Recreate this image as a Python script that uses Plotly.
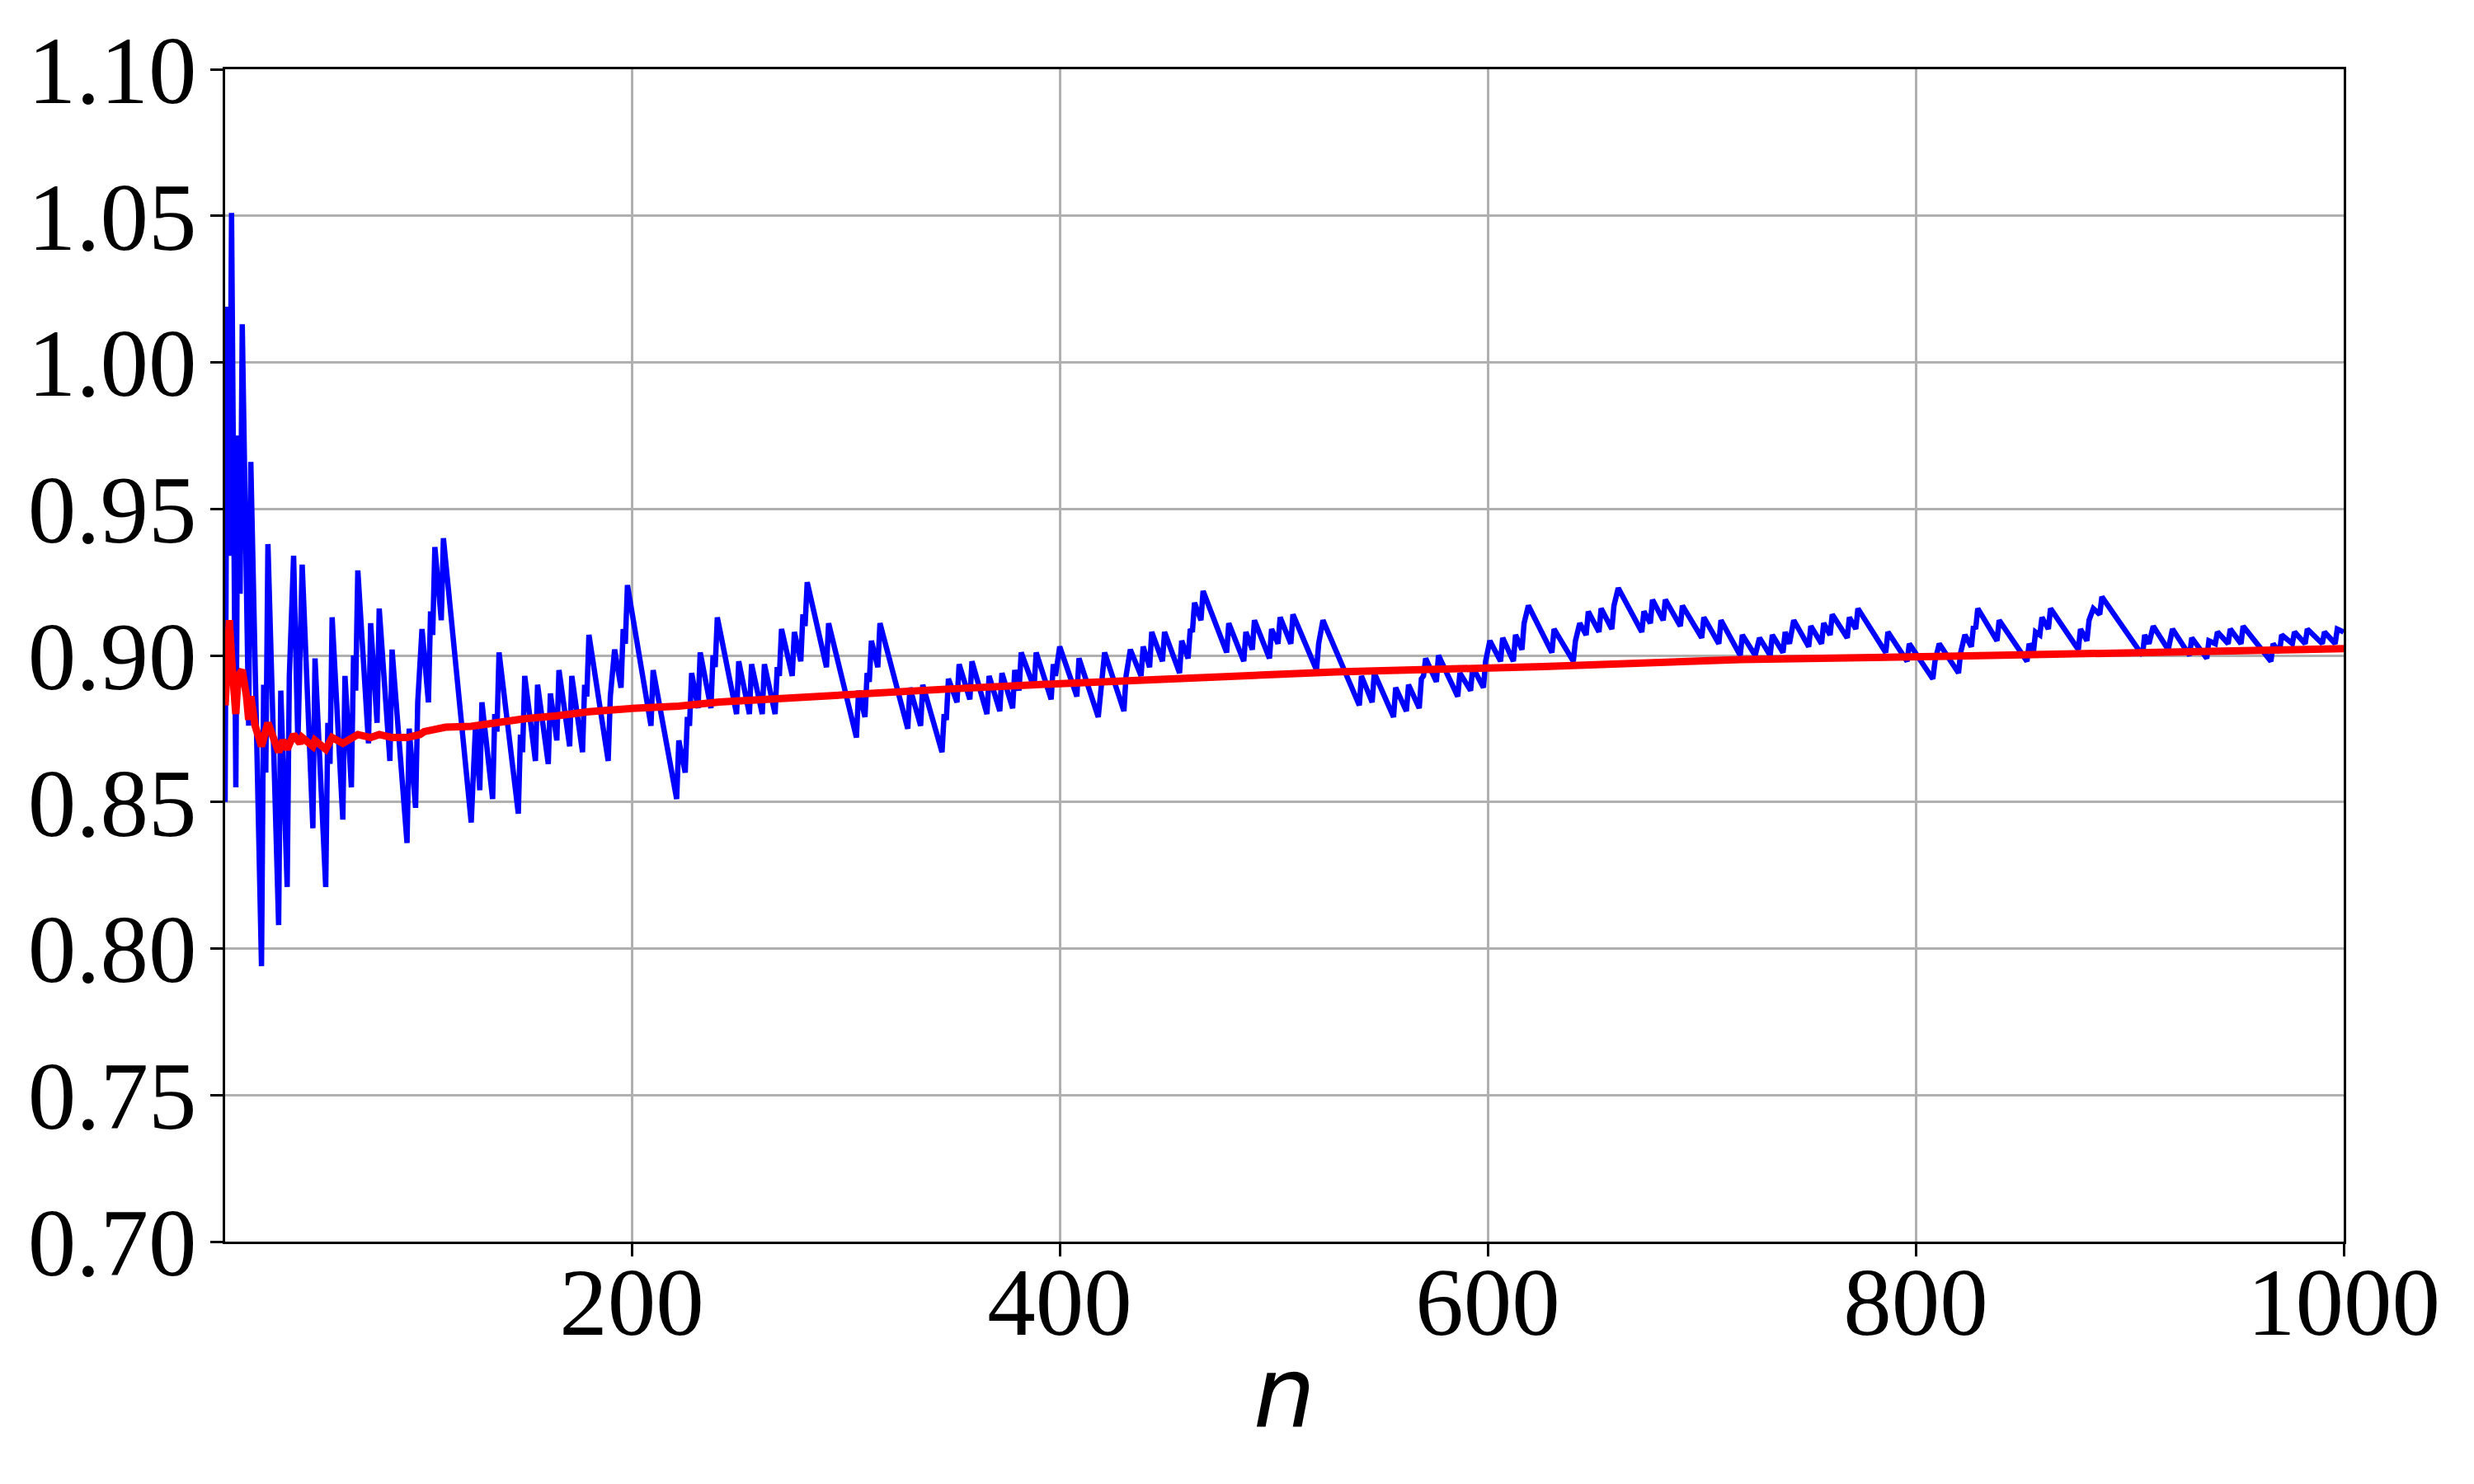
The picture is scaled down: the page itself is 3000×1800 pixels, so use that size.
import plotly.graph_objects as go

# --- 1. Data ---
# blue: running estimate (vertices of the zig-zag), red: smoothed running mean
blue_n = [10, 11, 12, 13, 15, 16, 17, 18, 21, 22, 27, 28, 29, 30, 35, 36, 39, 40, 42, 44,
          46, 51, 52, 57, 58, 59, 60, 65, 66, 69, 70, 71, 72, 77, 78, 81, 82, 87, 88, 95,
          96, 99, 100, 102, 105, 106, 107, 108, 111, 112,
          125, 127, 129, 130, 135, 136, 137, 138, 147, 148, 149, 150, 155, 156, 161, 162,
          165, 166, 171, 172, 177, 178, 179, 180, 189, 190, 192, 195, 196, 197, 198, 209,
          210, 221, 222, 225, 226, 227, 228, 231, 232, 237, 238, 239, 240, 249, 250, 255,
          256, 261, 262, 267, 268, 269, 270, 275, 276, 279, 280, 281, 282,
          291, 292, 305, 306, 309, 310, 311, 312, 315, 316, 329, 330, 335, 336, 345, 346,
          347, 348, 352, 353, 358, 359, 366, 367, 372, 373, 378, 379, 381, 382, 388, 389,
          396, 397, 398, 400, 408, 409, 418, 421, 430, 431, 433, 438, 439, 442, 443, 448,
          449, 456, 457,
          460, 461, 462, 463, 466, 467, 478, 479, 486, 487, 490, 491, 498, 499, 502, 503,
          508, 509, 520, 521, 523, 540, 541, 546, 547, 556, 557, 562, 563, 568, 569, 570,
          571, 576, 577, 586, 587, 592, 593, 598, 599, 601, 606, 607, 612, 613, 616, 617,
          619,
          630, 631, 640, 641, 643, 646, 647, 652, 653, 658, 659, 661, 672, 673, 676, 677,
          682, 683, 690, 691, 700, 701, 708, 709, 718, 719, 725, 727, 732, 733, 738, 739,
          741, 743, 750, 751, 756, 757, 760, 761, 768, 769, 772, 773, 786, 787, 796, 797,
          808, 809, 811,
          820, 821, 823, 826, 827, 828, 829, 838, 839, 852, 853, 855, 856, 858, 859, 862,
          863, 876, 877, 880, 881, 883, 886, 887, 906, 907, 909, 911, 918, 920, 928, 929,
          936, 937, 940, 941, 946, 947, 952, 953, 966, 967, 970, 971, 976, 977, 982, 983,
          990, 991, 996, 997, 1000]
blue_v = [0.850, 1.019, 0.934, 1.051, 0.855, 0.975, 0.921, 1.013, 0.876, 0.966, 0.794, 0.890,
          0.860, 0.938, 0.808, 0.888, 0.821, 0.893, 0.934, 0.870,
          0.931, 0.841, 0.899, 0.821, 0.877, 0.863, 0.913, 0.844, 0.893, 0.855, 0.900, 0.888,
          0.929, 0.870, 0.911, 0.877, 0.916, 0.864, 0.902, 0.836,
          0.875, 0.848, 0.884, 0.909, 0.884, 0.915, 0.907, 0.937, 0.912, 0.940,
          0.843, 0.876, 0.854, 0.884, 0.851, 0.880, 0.874, 0.901, 0.846, 0.873, 0.867, 0.893,
          0.864, 0.890, 0.863, 0.887,
          0.871, 0.895, 0.869, 0.893, 0.867, 0.890, 0.886, 0.907, 0.864, 0.886, 0.902, 0.889,
          0.909, 0.904, 0.924, 0.876,
          0.895, 0.851, 0.871, 0.860, 0.879, 0.876, 0.894, 0.882, 0.901, 0.882, 0.900, 0.896,
          0.913, 0.880, 0.898, 0.880,
          0.897, 0.880, 0.897, 0.880, 0.896, 0.893, 0.909, 0.893, 0.908, 0.898, 0.914, 0.910,
          0.925,
          0.896, 0.911, 0.872, 0.888, 0.879, 0.894, 0.891, 0.905, 0.896, 0.911, 0.875, 0.889,
          0.876, 0.890, 0.867, 0.880,
          0.878, 0.892, 0.884, 0.897, 0.885, 0.898, 0.880, 0.893, 0.881, 0.894, 0.882, 0.895,
          0.888, 0.901, 0.889, 0.901,
          0.885, 0.897, 0.893, 0.903, 0.886, 0.899, 0.879, 0.901, 0.881, 0.893, 0.902, 0.893,
          0.903, 0.896, 0.908, 0.898,
          0.908, 0.894, 0.905,
          0.899, 0.909, 0.908, 0.918, 0.912, 0.922, 0.901, 0.911, 0.898, 0.908, 0.902, 0.912,
          0.899, 0.909, 0.904, 0.913,
          0.904, 0.914, 0.895, 0.904, 0.912, 0.883, 0.893, 0.884, 0.894, 0.879, 0.889, 0.881,
          0.890, 0.882, 0.892, 0.893,
          0.899, 0.891, 0.900, 0.886, 0.894, 0.888, 0.896, 0.889, 0.898, 0.905, 0.898, 0.906,
          0.898, 0.907, 0.902, 0.911,
          0.917,
          0.901, 0.909, 0.898, 0.905, 0.911, 0.907, 0.915, 0.908, 0.916, 0.909, 0.917, 0.923,
          0.908, 0.915, 0.911, 0.919,
          0.912, 0.919, 0.910, 0.917, 0.906, 0.913, 0.904, 0.912, 0.900, 0.907, 0.900, 0.906,
          0.900, 0.907, 0.901, 0.908,
          0.904, 0.912, 0.903, 0.910, 0.904, 0.911, 0.907, 0.914, 0.906, 0.913, 0.909, 0.916,
          0.901, 0.908, 0.898, 0.904,
          0.892, 0.898, 0.904,
          0.894, 0.901, 0.907, 0.903, 0.910, 0.909, 0.916, 0.905, 0.912, 0.898, 0.904, 0.901,
          0.908, 0.907, 0.913, 0.909,
          0.916, 0.902, 0.909, 0.905, 0.912, 0.916, 0.914, 0.920, 0.900, 0.907, 0.904, 0.910,
          0.902, 0.909, 0.900, 0.906,
          0.899, 0.905, 0.904, 0.908, 0.904, 0.909, 0.904, 0.910, 0.898, 0.904, 0.901, 0.907,
          0.904, 0.908, 0.904, 0.909,
          0.904, 0.908, 0.904, 0.909, 0.908]

red_n = [10, 12, 13, 15, 16, 18, 20, 21, 22, 24, 27, 28, 30, 33, 35, 37, 39, 42, 45, 46,
         51, 52, 57, 60, 65, 72, 78, 82, 88, 95, 101, 103, 108, 113, 125, 139, 150, 165,
         180, 200, 222, 241, 267, 286, 347, 398, 456, 529, 626, 718, 815, 901, 1000]
red_v = [0.883, 0.912, 0.899, 0.880, 0.893, 0.895, 0.886, 0.878, 0.886, 0.876, 0.869, 0.872,
         0.877, 0.871, 0.867, 0.871, 0.868, 0.873, 0.870, 0.872,
         0.869, 0.871, 0.868, 0.872, 0.870, 0.873, 0.872, 0.873, 0.872, 0.872, 0.873, 0.874,
         0.875, 0.8755, 0.8758, 0.8775, 0.8784, 0.8794,
         0.8808, 0.8819, 0.8827, 0.8841, 0.8852, 0.8864, 0.8885, 0.8903, 0.8922, 0.8944,
         0.8962, 0.8986, 0.8997, 0.9011, 0.9023]

x_ticks = [200, 400, 600, 800, 1000]
y_ticks = [0.70, 0.75, 0.80, 0.85, 0.90, 0.95, 1.00, 1.05, 1.10]


# --- 2. Figure ---
def build_figure():
    fig = go.Figure()
    fig.add_trace(go.Scatter(x=blue_n, y=blue_v, mode='lines',
                             line=dict(color='#0000ff', width=6.5), hoverinfo='skip'))
    fig.add_trace(go.Scatter(x=red_n, y=red_v, mode='lines',
                             line=dict(color='#ff0000', width=9), hoverinfo='skip'))

    axis_style = dict(showgrid=True, gridcolor='#b0b0b0', gridwidth=3,
                      showline=True, linecolor='black', linewidth=3, mirror=True,
                      ticks='outside', ticklen=15, tickwidth=3, tickcolor='black',
                      zeroline=False)

    # page body has an 8px margin, so the figure is a bit smaller than the window
    fig.update_layout(
        width=2984, height=1784,
        margin=dict(l=265, r=150, t=76, b=286),
        plot_bgcolor='white', paper_bgcolor='white',
        showlegend=False,
        font=dict(family='Liberation Serif', size=117, color='black'),
    )
    fig.update_xaxes(range=[10, 1000], tickvals=x_ticks, ticklabelstandoff=-45,
                     title=dict(text='<i>n</i>', standoff=5,
                                font=dict(family='DejaVu Sans', size=119)),
                     **axis_style)
    fig.update_yaxes(range=[0.70, 1.10], tickvals=y_ticks, tickformat='.2f',
                     ticklabelstandoff=-7, **axis_style)
    return fig


if __name__ == "__main__":
    fig = build_figure()
    fig.write_html("out.html")
